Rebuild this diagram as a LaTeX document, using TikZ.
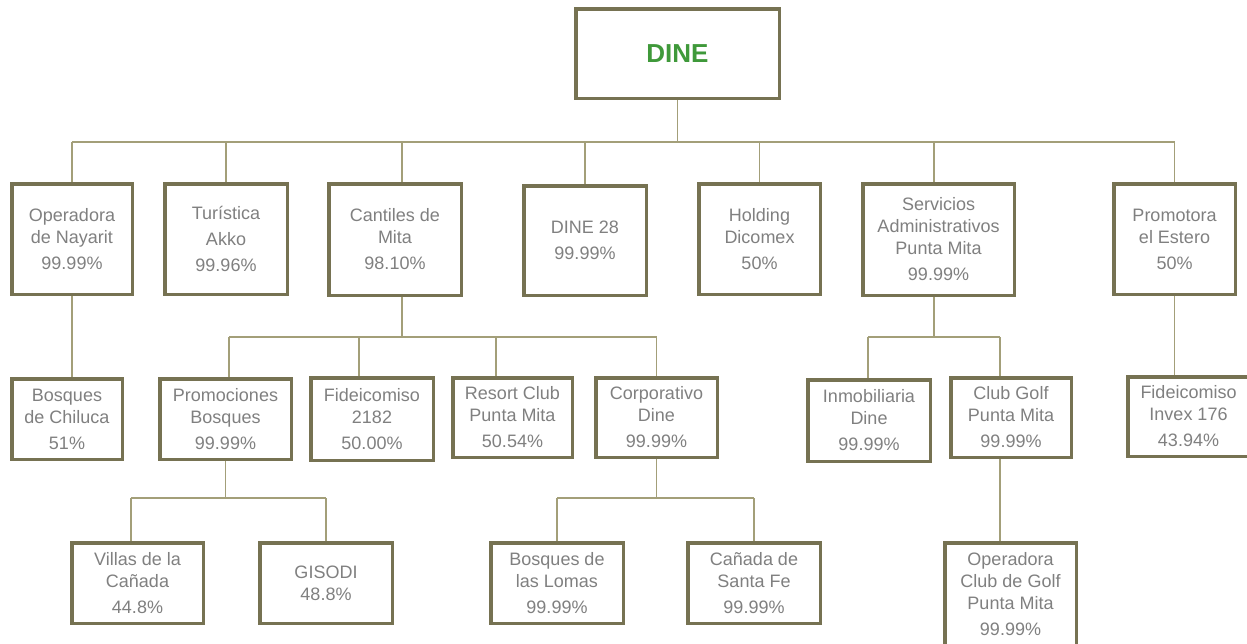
\documentclass[tikz,border=0pt]{standalone}
\usepackage{fontspec}
\setmainfont{Liberation Sans}
\definecolor{bordercol}{RGB}{118,114,82}
\definecolor{conncol}{RGB}{163,159,121}
\definecolor{txtcol}{RGB}{128,128,128}
\definecolor{dinegreen}{RGB}{63,153,58}
\begin{document}
\begin{tikzpicture}[x=1pt,y=-1pt,
  box/.style={draw=bordercol, line width=3.5pt, fill=white, inner sep=0pt, align=center,
    text=txtcol, font=\fontsize{18}{22}\selectfont},
  conn/.style={draw=conncol, line width=1.4pt}]
\useasboundingbox (0,0) rectangle (1247,643);
\clip (0,0) rectangle (1247,643);
% level 0
\node[box, minimum width=203.5pt, minimum height=89.5pt, text=dinegreen,
  font=\fontsize{26}{30}\selectfont\bfseries] (dine) at (677.5,53.5) {DINE};
% level 1
\node[box, minimum width=120.5pt, minimum height=110.5pt] (opn) at (72,239) {Operadora\\de Nayarit\\[4pt]99.99\%};
\node[box, minimum width=122.5pt, minimum height=110.5pt] (tur) at (226,239) {Turística\\[4pt]Akko\\[4pt]99.96\%};
\node[box, minimum width=132.5pt, minimum height=111.5pt] (cant) at (395,239.5) {Cantiles de\\Mita\\[4pt]98.10\%};
\node[box, minimum width=122.5pt, minimum height=109.5pt] (d28) at (585,240.5) {DINE 28\\[4pt]99.99\%};
\node[box, minimum width=121.5pt, minimum height=110.5pt] (hold) at (759.5,239) {Holding\\Dicomex\\[4pt]50\%};
\node[box, minimum width=151.5pt, minimum height=111.5pt] (serv) at (938.5,239.5) {Servicios\\Administrativos\\Punta Mita\\[4pt]99.99\%};
\node[box, minimum width=121.5pt, minimum height=110.5pt] (prom) at (1174.5,239) {Promotora\\el Estero\\[4pt]50\%};
% level 2
\node[box, minimum width=110.5pt, minimum height=80.5pt] (chil) at (67,419) {Bosques\\de Chiluca\\[4pt]51\%};
\node[box, minimum width=131.5pt, minimum height=80.5pt] (promb) at (225.5,419) {Promociones\\Bosques\\[4pt]99.99\%};
\node[box, minimum width=122.5pt, minimum height=82.5pt] (fid) at (372,419) {Fideicomiso\\2182\\[4pt]50.00\%};
\node[box, minimum width=119.5pt, minimum height=79.5pt] (res) at (512.5,417.5) {Resort Club\\Punta Mita\\[4pt]50.54\%};
\node[box, minimum width=121.5pt, minimum height=79.5pt] (corp) at (656.5,417.5) {Corporativo\\Dine\\[4pt]99.99\%};
\node[box, minimum width=122.5pt, minimum height=81.5pt] (inm) at (869,420.5) {Inmobiliaria\\Dine\\[4pt]99.99\%};
\node[box, minimum width=120.5pt, minimum height=79.5pt] (club) at (1011,417.5) {Club Golf\\Punta Mita\\[4pt]99.99\%};
\node[box, minimum width=121.5pt, minimum height=79.5pt] (inv) at (1188.5,416.5) {Fideicomiso\\Invex 176\\[4pt]43.94\%};
% level 3
\node[box, minimum width=131.5pt, minimum height=80.5pt] (vil) at (137.5,583) {Villas de la\\Cañada\\[4pt]44.8\%};
\node[box, minimum width=132.5pt, minimum height=80.5pt] (gis) at (326,583) {GISODI\\48.8\%};
\node[box, minimum width=132.5pt, minimum height=80.5pt] (bl) at (557,583) {Bosques de\\las Lomas\\[4pt]99.99\%};
\node[box, minimum width=132.5pt, minimum height=80.5pt] (csf) at (754,583) {Cañada de\\Santa Fe\\[4pt]99.99\%};
\node[box, minimum width=131.5pt, minimum height=102.5pt] (ocg) at (1010.5,594) {Operadora\\Club de Golf\\Punta Mita\\[4pt]99.99\%};
% buses
\coordinate (busA) at (0,142);
\coordinate (busB) at (0,337);
\coordinate (busC) at (0,498);
% level 0 -> 1
\draw[conn] (dine.south) -- (dine.south |- busA);
\draw[conn] (opn.north |- busA) -- (prom.north |- busA);
\draw[conn] (opn.north) -- (opn.north |- busA);
\draw[conn] (tur.north) -- (tur.north |- busA);
\draw[conn] ([xshift=7pt]cant.north) -- ([xshift=7pt]cant.north |- busA);
\draw[conn] (d28.north) -- (d28.north |- busA);
\draw[conn] (hold.north) -- (hold.north |- busA);
\draw[conn] ([xshift=-4.5pt]serv.north) -- ([xshift=-4.5pt]serv.north |- busA);
\draw[conn] (prom.north) -- (prom.north |- busA);
% Operadora -> Chiluca
\draw[conn] ([xshift=5pt]chil.north) -- ([xshift=5pt]chil.north |- opn.south);
% Cantiles -> children
\draw[conn] ([xshift=7pt]cant.south) -- ([xshift=7pt]cant.south |- busB);
\draw[conn] ([xshift=3.5pt]promb.north |- busB) -- (corp.north |- busB);
\draw[conn] ([xshift=3.5pt]promb.north) -- ([xshift=3.5pt]promb.north |- busB);
\draw[conn] ([xshift=-13pt]fid.north) -- ([xshift=-13pt]fid.north |- busB);
\draw[conn] ([xshift=-16.5pt]res.north) -- ([xshift=-16.5pt]res.north |- busB);
\draw[conn] (corp.north) -- (corp.north |- busB);
% Servicios -> children
\draw[conn] ([xshift=-4.5pt]serv.south) -- ([xshift=-4.5pt]serv.south |- busB);
\draw[conn] ([xshift=-1pt]inm.north |- busB) -- ([xshift=-11pt]club.north |- busB);
\draw[conn] ([xshift=-1pt]inm.north) -- ([xshift=-1pt]inm.north |- busB);
\draw[conn] ([xshift=-11pt]club.north) -- ([xshift=-11pt]club.north |- busB);
% Promotora -> Invex
\draw[conn] (prom.south) -- (prom.south |- inv.north);
% Promociones -> children
\draw[conn] (promb.south) -- (promb.south |- busC);
\draw[conn] ([xshift=-6.5pt]vil.north |- busC) -- (gis.north |- busC);
\draw[conn] ([xshift=-6.5pt]vil.north) -- ([xshift=-6.5pt]vil.north |- busC);
\draw[conn] (gis.north) -- (gis.north |- busC);
% Corporativo -> children
\draw[conn] (corp.south) -- (corp.south |- busC);
\draw[conn] (bl.north |- busC) -- (csf.north |- busC);
\draw[conn] (bl.north) -- (bl.north |- busC);
\draw[conn] (csf.north) -- (csf.north |- busC);
% Club Golf -> Operadora Club de Golf
\draw[conn] ([xshift=-11pt]club.south) -- ([xshift=-11pt]club.south |- ocg.north);
\end{tikzpicture}
\end{document}
